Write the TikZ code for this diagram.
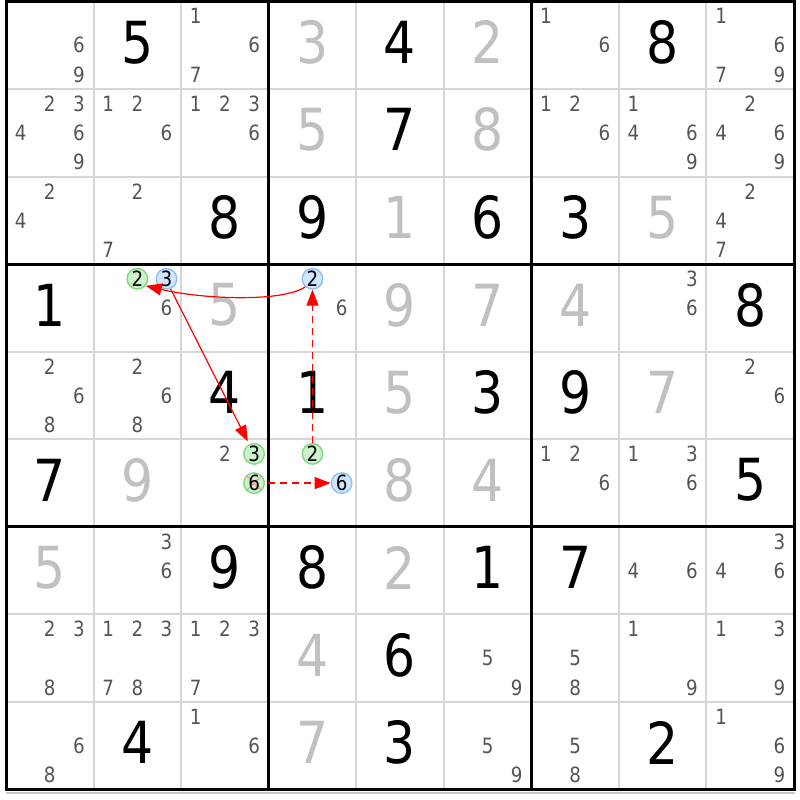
\documentclass[tikz,border=0pt]{standalone}
\usepackage{fontspec}
\setmainfont{DejaVu Sans}[FakeStretch=0.87]
\usetikzlibrary{arrows.meta}
\definecolor{solvedc}{HTML}{C0C0C0}
\definecolor{candc}{HTML}{555555}
\definecolor{thinc}{HTML}{D6D6D6}
\definecolor{gfill}{HTML}{CDF2CD}
\definecolor{gline}{HTML}{80D880}
\definecolor{bfill}{HTML}{CFE6FF}
\definecolor{bline}{HTML}{90C0F0}
\definecolor{xred}{HTML}{F0A8A8}
\definecolor{linkred}{HTML}{FF0000}
\definecolor{shadowc}{HTML}{C8C8C8}
\begin{document}
\begin{tikzpicture}[x=1pt,y=-1pt,
  bigdigit/.style={inner sep=0pt, font=\fontsize{58}{58}\selectfont},
  givenstyle/.style={bigdigit, text=black},
  solvedstyle/.style={bigdigit, text=solvedc},
  candstyle/.style={inner sep=0pt, font=\fontsize{21}{21}\selectfont, text=candc},
  hlbase/.style={circle, inner sep=0pt, minimum size=20.5pt, line width=1.4pt,
    font=\fontsize{21}{21}\selectfont, text=black},
  hlgreen/.style={hlbase, draw=gline, fill=gfill},
  hlblue/.style={hlbase, draw=bline, fill=bfill},
  crossed/.style={path picture={
    \draw[xred, line width=1.6pt]
      ([shift={(3pt,-3pt)}]path picture bounding box.north west) -- ([shift={(-3pt,3pt)}]path picture bounding box.south east)
      ([shift={(-3pt,-3pt)}]path picture bounding box.north east) -- ([shift={(3pt,3pt)}]path picture bounding box.south west);}},
  thinline/.style={thinc, line width=2pt},
  thickline/.style={black, line width=3pt},
  strong/.style={linkred, line width=1.2pt, -{Triangle[length=16pt,width=12pt]}},
  weak/.style={strong, dash pattern=on 7pt off 5pt}
]
\useasboundingbox (0,0) rectangle (800,800);
\fill[white] (0,0) rectangle (800,800);
% shadow
\draw[shadowc, line width=2pt] (6,792.5) -- (795,792.5);
% thin grid
\foreach \i in {1,2,4,5,7,8} {
  \draw[thinline] ({6+\i*87.56},1.5) -- ({6+\i*87.56},789.54);
  \draw[thinline] (6,{1.5+\i*87.56}) -- (794.04,{1.5+\i*87.56});
}
% thick grid
\foreach \i in {0,3,6,9} {
  \draw[thickline] ({6+\i*87.56},0) -- ({6+\i*87.56},791);
  \draw[thickline] (4.5,{1.5+\i*87.56}) -- (795.5,{1.5+\i*87.56});
}
% givens
\foreach \r/\c/\v in {1/2/5,1/5/4,1/8/8,2/5/7,3/3/8,3/4/9,3/6/6,3/7/3,4/1/1,4/9/8,
  5/3/4,5/4/1,5/6/3,5/7/9,6/1/7,6/9/5,7/3/9,7/4/8,7/6/1,7/7/7,8/5/6,9/2/4,9/5/3,9/8/2}
  \node[givenstyle] (g\r\c) at ({6+(\c-0.5)*87.56},{1.5+(\r-0.5)*87.56-3}) {\v};
% solved
\foreach \r/\c/\v in {1/4/3,1/6/2,2/4/5,2/6/8,3/5/1,3/8/5,4/3/5,4/5/9,4/6/7,4/7/4,
  5/5/5,5/8/7,6/2/9,6/5/8,6/6/4,7/1/5,7/5/2,8/4/4,9/4/7}
  \node[solvedstyle] (s\r\c) at ({6+(\c-0.5)*87.56},{1.5+(\r-0.5)*87.56-3}) {\v};
% candidates
\foreach \r/\c/\ds in {1/1/{6,9},1/3/{1,6,7},1/7/{1,6},1/9/{1,6,7,9},
  2/1/{2,3,4,6,9},2/2/{1,2,6},2/3/{1,2,3,6},2/7/{1,2,6},2/8/{1,4,6,9},2/9/{2,4,6,9},
  3/1/{2,4},3/2/{2,7},3/9/{2,4,7},
  4/2/{6},4/4/{6},4/8/{3,6},
  5/1/{2,6,8},5/2/{2,6,8},5/9/{2,6},
  6/3/{2},6/7/{1,2,6},6/8/{1,3,6},
  7/2/{3,6},7/8/{4,6},7/9/{3,4,6},
  8/1/{2,3,8},8/2/{1,2,3,7,8},8/3/{1,2,3,7},8/6/{5,9},8/7/{5,8},8/8/{1,9},8/9/{1,3,9},
  9/1/{6,8},9/3/{1,6},9/6/{5,9},9/7/{5,8},9/9/{1,6,9}}
  \foreach \d in \ds
    \node[candstyle] (k\r\c\d) at ({6+(\c-1)*87.56+(mod(\d-1,3)+0.5)*29.187},{1.5+(\r-1)*87.56+(floor((\d-1)/3)+0.5)*29.187}) {\d};
% highlighted candidates
\node[hlgreen] (h422) at (137.34,278.77) {2};
\node[hlblue]  (h423) at (166.53,278.77) {3};
\node[hlblue]  (h442) at (312.46,278.77) {2};
\node[hlgreen] (h633) at (254.09,453.89) {3};
\node[hlgreen,crossed] (h636) at (254.09,483.08) {6};
\node[hlgreen] (h642) at (312.46,453.89) {2};
\node[hlblue]  (h646) at (341.65,483.08) {6};
% links
\draw[strong] (h442.228) .. controls +(-22,15) and +(60,14) .. (h422.-40);
\draw[strong, shorten >=3pt] (h423.-68) -- (h633);
\draw[weak] (h642) -- (h442);
\draw[weak, shorten <=3pt] (h636) -- (h646);
\end{tikzpicture}
\end{document}
